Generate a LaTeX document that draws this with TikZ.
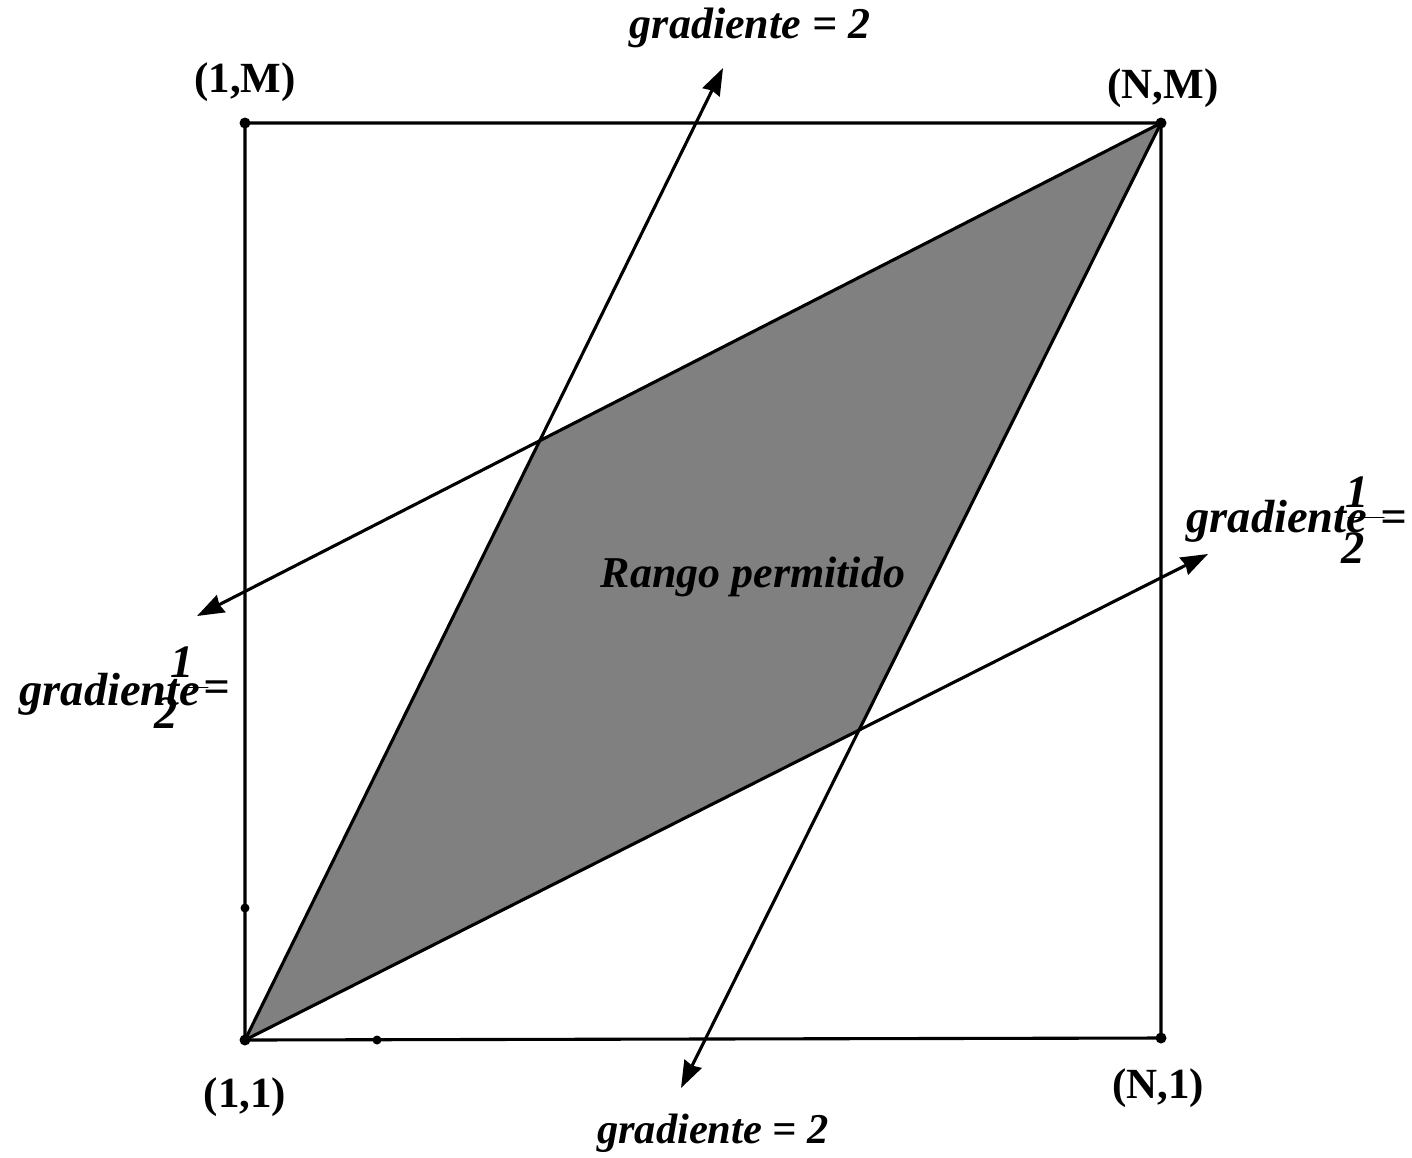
\documentclass[tikz,border=0pt]{standalone}
\usepackage{fontspec}
\setmainfont{Liberation Serif}
\usetikzlibrary{arrows.meta}
\begin{document}
\begin{tikzpicture}[x=1pt,y=-1pt,line width=3.1pt,line join=round,line cap=round,>={Stealth[length=27pt,width=19pt,inset=2pt]},
 lab/.style={font=\fontsize{43}{48}\selectfont\bfseries},
 grad/.style={font=\fontsize{44}{48}\selectfont\bfseries\itshape},
 gradside/.style={font=\fontsize{46.5}{50}\selectfont\bfseries\itshape}]
\useasboundingbox (0,0) rectangle (1412,1157);
\coordinate (A) at (245,1040);
\coordinate (B) at (1161,1038);
\coordinate (C) at (1161,123);
\coordinate (D) at (245,123);
\coordinate (P) at (540,440);
\coordinate (Q) at (858,730);
\coordinate (T1) at (723,68);
\coordinate (T2) at (681,1088);
\coordinate (T3) at (197,616);
\coordinate (T4) at (1208,554);
\fill[black!50] (A)--(P)--(C)--(Q)--cycle;
\draw (A)--(B)--(C)--(D)--cycle;
\draw[->] (A)--(T1);
\draw[->] (C)--(T2);
\draw[->] (C)--(T3);
\draw[->] (A)--(T4);
\foreach \x in {A,B,C,D} {\fill (\x) circle(5.5pt);}
\fill (245,908) circle(4.5pt);
\fill (377,1040) circle(4.5pt);
\node[lab] (lA) at (245,1097) {(1,1)};
\node[lab] (lB) at (1158,1088) {(N,1)};
\node[lab] (lC) at (1163,88) {(N,M)};
\node[lab] (lD) at (245,82) {(1,M)};
\node[grad] (g1) at (750,28) {gradiente = 2};
\node[grad,font=\fontsize{42.5}{48}\selectfont\bfseries\itshape] (g2) at (713,1133) {gradiente = 2};
\node[grad] (rp) at (753,577) {Rango permitido};
% gradiente = 1/2, derecha
\node[gradside,anchor=base west,inner sep=0pt] (g3) at (1185,532) {gradiente};
\node[gradside] (g3n) at (1357,492) {1};
\node[gradside] (g3d) at (1353,548) {2};
\draw[line width=1pt] (1348,517)--(1384,517);
\node[gradside] (g3e) at (1394,522) {=};
% gradiente = 1/2, izquierda
\node[gradside,anchor=base west,inner sep=0pt] (g4) at (18,705) {gradiente};
\node[gradside] (g4n) at (182,662) {1};
\node[gradside] (g4d) at (166,713) {2};
\draw[line width=1pt] (184,687)--(208,687);
\node[gradside] (g4e) at (217,692) {=};
\end{tikzpicture}
\end{document}
